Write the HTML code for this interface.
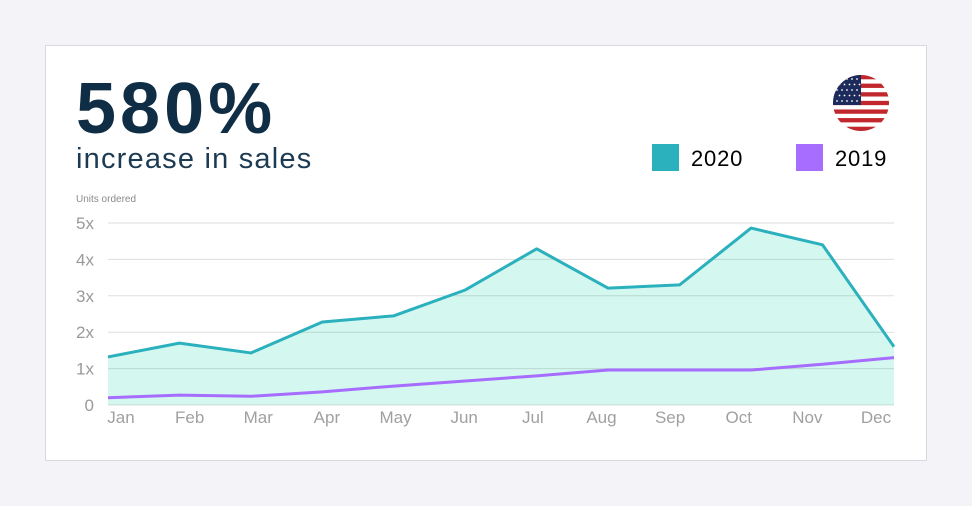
<!DOCTYPE html>
<html><head><meta charset="utf-8"><style>
body{margin:0;width:972px;height:506px;background:#f4f4f8;font-family:"Liberation Sans",sans-serif;overflow:hidden}
.card{position:absolute;left:45px;top:45px;width:880px;height:414px;background:#fff;border:1px solid #d8d8e0}
</style></head><body>
<div class="card"></div>
<svg width="972" height="506" style="position:absolute;left:0;top:0">
<defs><clipPath id="fc"><circle cx="861" cy="103" r="28"/></clipPath></defs>
<text x="76" y="133" font-size="72" font-weight="bold" fill="#0f2d44" letter-spacing="4">580%</text>
<text x="76" y="168" font-size="29" fill="#1c3a52" letter-spacing="1.2">increase in sales</text>
<g clip-path="url(#fc)" id="flag"></g>
<rect x="652" y="144" width="27" height="27" fill="#2bb0bd"/>
<text x="691" y="166" font-size="22" fill="#000" letter-spacing="0.8">2020</text>
<rect x="796" y="144" width="27" height="27" fill="#a66dff"/>
<text x="835" y="166" font-size="22" fill="#000" letter-spacing="0.8">2019</text>
<text x="76" y="202" font-size="10" fill="#8a8a8a">Units ordered</text>
<g id="plot"></g>
</svg>
<script>
const months=["Jan","Feb","Mar","Apr","May","Jun","Jul","Aug","Sep","Oct","Nov","Dec"];
const sales2020=[1.32,1.7,1.43,2.28,2.45,3.16,4.29,3.21,3.3,4.86,4.4,1.6];
const sales2019=[0.2,0.27,0.24,0.36,0.52,0.66,0.8,0.96,0.96,0.96,1.12,1.3];
const yTicks=[0,1,2,3,4,5];
const yTickLabels=["0","1x","2x","3x","4x","5x"];
const NS="http://www.w3.org/2000/svg";
const X0=108,X1=894,Y0=405,YU=36.4;
const xs=i=>X0+i*(X1-X0)/(months.length-1);
const ys=v=>Y0-v*YU;
const g=document.getElementById('plot');
function mk(t,a){const e=document.createElementNS(NS,t);for(const k in a)e.setAttribute(k,a[k]);g.appendChild(e);return e;}
const p20=sales2020.map((v,i)=>xs(i)+","+ys(v)).join(" ");
const area=mk('polygon',{points:X0+","+Y0+" "+p20+" "+X1+","+Y0,fill:"#d4f8ef"});


yTicks.forEach((t,i)=>{
 const l=mk('line',{x1:X0,x2:X1,y1:ys(t),y2:ys(t),stroke:"#000","stroke-opacity":0.13,"stroke-width":1});
 
 
 const tx=mk('text',{x:94,y:ys(t)+6,"font-size":17,fill:"#9a9a9a","text-anchor":"end"});
 tx.textContent=yTickLabels[i];
 
 
});
const l20=mk('polyline',{points:p20,fill:"none",stroke:"#2bb0bd","stroke-width":3,"stroke-linejoin":"round"});


const l19=mk('polyline',{points:sales2019.map((v,i)=>xs(i)+","+ys(v)).join(" "),fill:"none",stroke:"#a66dff","stroke-width":3,"stroke-linejoin":"round"});


months.forEach((m,i)=>{
 const tx=mk('text',{x:121+i*(876-121)/11,y:423,"font-size":17,fill:"#a0a0a0","text-anchor":"middle"});
 tx.textContent=m;
 
 
});
const f=document.getElementById('flag');
for(let i=0;i<13;i++){const r=document.createElementNS(NS,'rect');r.setAttribute('x',833);r.setAttribute('y',75+i*56/13);r.setAttribute('width',56);r.setAttribute('height',56/13+0.3);r.setAttribute('fill',i%2?'#fff':'#c1272d');f.appendChild(r);}
const c=document.createElementNS(NS,'rect');c.setAttribute('x',833);c.setAttribute('y',75);c.setAttribute('width',28);c.setAttribute('height',30);c.setAttribute('fill','#1c2a5c');f.appendChild(c);
for(let r=0;r<5;r++)for(let k=0;k<5;k++){const d=document.createElementNS(NS,'circle');d.setAttribute('cx',837+k*5+(r%2)*2.5);d.setAttribute('cy',79+r*5.5);d.setAttribute('r',0.9);d.setAttribute('fill','#fff');f.appendChild(d);}
</script>
</body></html>
